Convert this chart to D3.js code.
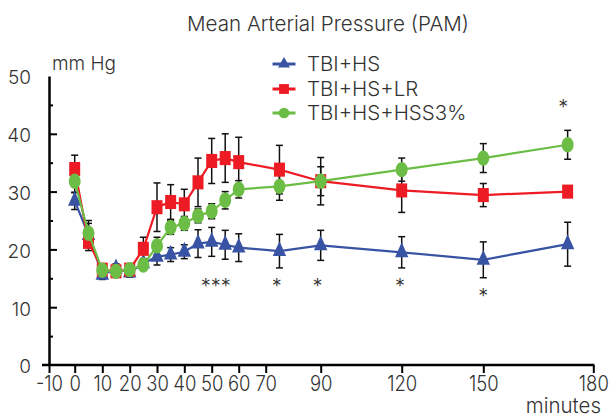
<!DOCTYPE html>
<html>
  <head>
    <meta charset="utf-8">
    <title>PAM</title>
    <script type="text/javascript" src="https://d3js.org/d3.v7.min.js"></script>
    <style>
      body { margin:0; background:#fff; }
      text { font-family: Inter, "Open Sans", sans-serif; font-weight:300; fill:#333; }
    </style>
  </head>
  <body>
    <svg width="612" height="420"></svg>
    <script>
    	// time points (minutes)
    	var times = [0,5,10,15,20,25,30,35,40,45,50,55,60,75,90,120,150,173];

    	// series means and errors (mm Hg)
    	var hsMean  = [28.4,22.5,15.6,16.7,16.0,17.6,18.7,19.1,19.6,21.0,21.3,20.8,20.3,19.7,20.7,19.5,18.2,20.9];
    	var hsErr   = [1.5,2.0,0.8,0.8,0.8,0.8,1.4,1.2,1.2,2.4,2.5,2.5,2.4,2.9,2.6,2.7,3.1,3.8];
    	var lrMean  = [33.9,21.3,16.5,16.2,16.5,20.1,27.3,28.2,27.8,31.6,35.3,35.8,35.1,33.8,31.8,30.2,29.4,30.0];
    	var lrErr   = [2.4,1.5,0.8,0.8,0.8,2.0,4.2,3.0,2.6,4.2,3.9,4.2,4.3,4.2,4.1,3.8,2.0,0.8];
    	var hssMean = [31.8,22.8,16.4,16.2,16.5,17.3,20.6,23.8,24.5,25.8,26.6,28.5,30.4,30.9,31.8,33.8,35.8,38.1];
    	var hssErr  = [2.0,2.2,0.8,0.8,0.8,0.8,1.5,1.2,1.2,1.2,1.3,1.5,1.5,2.4,2.5,2.0,2.5,2.5];

    	var seriesNames = ["TBI+HS","TBI+HS+LR","TBI+HS+HSS3%"];

    	// axis ticks
    	var xTicks = [-10,0,10,20,30,40,50,60,70,90,120,150,180];
    	var yTicks = [0,10,20,30,40,50];
    	var yMinor = [5,15,25,35,45];

    	// significance marks: [minute, mm Hg, text]
    	var stars = [[51.5,12.5,"***"],[74,12.5,"*"],[88.8,12.5,"*"],[119.4,12.5,"*"],[150,10.8,"*"],[171.8,43.5,"*"]];

    	var svg = d3.select("svg");

    	// the hand drawn x axis is not evenly spaced, so use a piecewise scale
    	var x = d3.scaleLinear()
    		.domain(xTicks)
    		.range([49,74.7,102.3,129.7,157,184.3,211.7,238.7,265.7,320.7,401.7,483.3,593.3]);
    	var y = d3.scaleLinear()
    		.domain([0,50])
    		.range([365,76]);

    	var colors = ["#3953a4","#ed1c24","#6cbd45"];
    	var symbols = [d3.symbolTriangle,d3.symbolSquare,d3.symbolCircle];
    	var sizes = [78,121,113];

    	var series = [
    		{name:seriesNames[0],mean:hsMean,err:hsErr},
    		{name:seriesNames[1],mean:lrMean,err:lrErr},
    		{name:seriesNames[2],mean:hssMean,err:hssErr}
    	];

    	// title and units
    	svg.append("text")
    		.attr("x",328).attr("y",31)
    		.attr("text-anchor","middle")
    		.style("font-size","20.6px")
    		.text("Mean Arterial Pressure (PAM)");
    	svg.append("text")
    		.attr("x",52).attr("y",70)
    		.style("font-size","19px")
    		.text("mm Hg");
    	svg.append("text")
    		.attr("x",601).attr("y",413)
    		.attr("text-anchor","end")
    		.style("font-size","20.5px")
    		.text("minutes");

    	// x axis
    	var gx = svg.append("g")
    		.attr("transform","translate(0,"+y(0)+")")
    		.call(d3.axisBottom(x).tickValues(xTicks).tickSize(8).tickSizeOuter(0).tickPadding(3)
    			.tickFormat(function(d){ return String(d); }));
    	gx.select(".domain").remove();
    	gx.append("line")
    		.attr("x1",x(-10)-7).attr("x2",x(180)+1)
    		.attr("stroke","#000").attr("stroke-width",2.5);
    	gx.selectAll(".tick line").attr("stroke","#000").attr("stroke-width",2);
    	gx.selectAll(".tick text")
    		.attr("fill","#333")
    		.attr("transform","scale(0.88,1)")
    		.style("font-size","21px");

    	// y axis, ticks point inward
    	var gy = svg.append("g")
    		.attr("transform","translate("+x(-10)+",0)")
    		.call(d3.axisLeft(y).tickValues(yTicks).tickSize(-8).tickSizeOuter(0).tickPadding(18));
    	gy.select(".domain").attr("stroke","#000").attr("stroke-width",2.5);
    	gy.selectAll(".tick line")
    		.attr("stroke","#000").attr("stroke-width",2)
    		.filter(function(d){ return d==0 || d==50; }).remove();
    	gy.selectAll(".tick text")
    		.attr("fill","#333")
    		.attr("dy","0.42em")
    		.style("font-size","19px");
    	var gyMinor = svg.append("g")
    		.attr("transform","translate("+x(-10)+",0)")
    		.call(d3.axisLeft(y).tickValues(yMinor).tickSize(-4).tickFormat(""));
    	gyMinor.select(".domain").remove();
    	gyMinor.selectAll(".tick line").attr("stroke","#000").attr("stroke-width",2);

    	// error bars
    	series.forEach(function(s){
    		var eb = svg.append("g").attr("stroke","#111").attr("stroke-width",1.5);
    		times.forEach(function(t,i){
    			var cx = x(t), hi = y(s.mean[i]+s.err[i]), lo = y(s.mean[i]-s.err[i]);
    			eb.append("line").attr("x1",cx).attr("x2",cx).attr("y1",hi).attr("y2",lo);
    			eb.append("line").attr("x1",cx-3.5).attr("x2",cx+3.5).attr("y1",hi).attr("y2",hi);
    			eb.append("line").attr("x1",cx-3.5).attr("x2",cx+3.5).attr("y1",lo).attr("y2",lo);
    		});
    	});

    	// lines and markers
    	var line = d3.line()
    		.x(function(d){ return x(d[0]); })
    		.y(function(d){ return y(d[1]); });
    	series.forEach(function(s,k){
    		var pts = times.map(function(t,i){ return [t,s.mean[i]]; });
    		svg.append("path")
    			.datum(pts)
    			.attr("d",line)
    			.attr("fill","none")
    			.attr("stroke",colors[k])
    			.attr("stroke-width",2.2);
    		svg.append("g").selectAll("path")
    			.data(pts)
    			.enter()
    			.append("path")
    			.attr("d",d3.symbol().type(symbols[k]).size(sizes[k]))
    			.attr("transform",function(d){ return "translate("+x(d[0])+","+y(d[1])+") scale(1,1.28)"; })
    			.attr("fill",colors[k]);
    	});

    	// asterisks
    	svg.append("g").selectAll("text")
    		.data(stars)
    		.enter()
    		.append("text")
    		.attr("x",function(d){ return x(d[0]); })
    		.attr("y",function(d){ return y(d[1]); })
    		.attr("text-anchor","middle")
    		.style("font-size","20px")
    		.text(function(d){ return d[2]; });

    	// legend
    	var legend = svg.append("g").selectAll("g")
    		.data(series)
    		.enter()
    		.append("g")
    		.attr("transform",function(d,i){ return "translate(284,"+[64,89,113][i]+")"; });
    	legend.append("line")
    		.attr("x1",-11.5).attr("x2",11.5)
    		.attr("stroke",function(d,i){ return colors[i]; })
    		.attr("stroke-width",3);
    	legend.append("path")
    		.attr("d",function(d,i){ return d3.symbol().type(symbols[i]).size(sizes[i]*0.8)(); })
    		.attr("fill",function(d,i){ return colors[i]; });
    	legend.append("text")
    		.attr("x",23)
    		.attr("dy","0.36em")
    		.style("font-size","20.5px")
    		.text(function(d){ return d.name; });
    </script>
  </body>
</html>
